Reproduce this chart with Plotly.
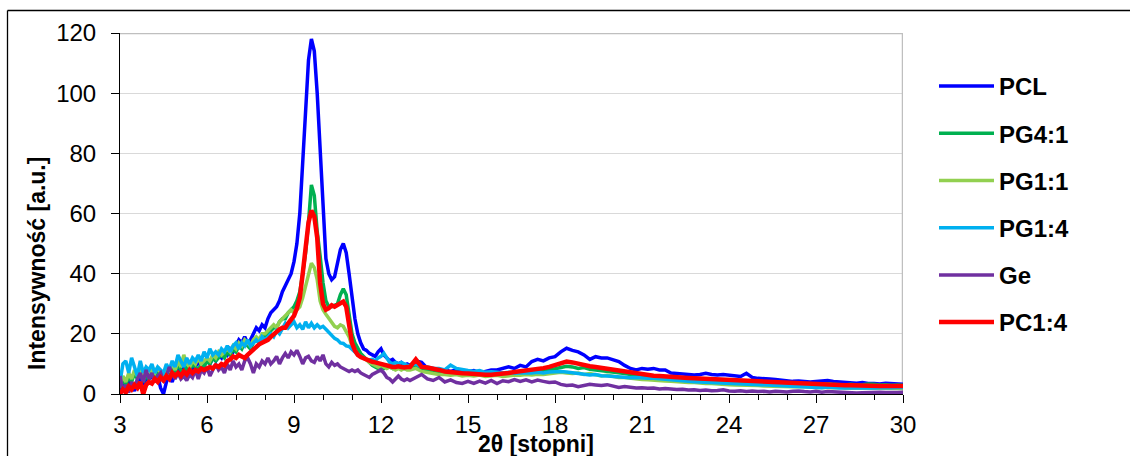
import numpy as np
import plotly.graph_objects as go

# 2-theta sampling grid: 0.1 deg steps up to 12.9, then 0.2 deg steps to 30
two_theta = np.round(np.concatenate([np.arange(30, 130) / 10, np.arange(65, 151) * 0.2]), 1)

pcl = [
    1, 4, 2, 5, 3, 1, 4, 6, 3, 5,
    5, 6, 4, 6, 2, 0, 4, 6, 4, 7,
    8, 6, 9, 7, 10, 8, 9, 11, 9, 10,
    11, 10, 12, 11, 13, 12, 14, 13, 15, 14,
    16, 18, 17, 19, 17, 18, 20, 22, 21, 23,
    22, 25, 27, 28, 29, 31, 34, 36, 38, 40,
    44, 50, 60, 78, 98, 111, 118, 114, 100, 80,
    60, 45, 40, 38, 39, 43, 48, 50, 47, 40,
    32, 25, 20, 17, 15, 14.5, 13.5, 13, 12.5, 14,
    15, 13, 12, 11, 11.5, 10.5, 10, 10.5, 9.5, 10,
    # 13.0 - 30.0
    9.5, 11, 10.5, 8.5, 8.5, 8, 8, 7.5, 8, 7.5,
    7.4, 7.8, 7, 7.5, 8, 8, 8.5, 9, 8.5, 9.5,
    9, 10.8, 11.5, 11, 12, 12.4, 14, 15.2, 14.5, 14,
    13, 11.5, 12.4, 12, 12, 11.5, 10.8, 9.5, 8.5, 8,
    8.5, 8.2, 8.5, 8, 8, 7, 6.8, 6.5, 6.3, 6.3,
    6.5, 6.9, 6.5, 6.3, 6.5, 6.3, 6, 5.8, 6.9, 5.5,
    5.2, 5.2, 5, 4.8, 4.6, 4.5, 4.2, 4.3, 4.1, 4,
    4.2, 4.3, 4.5, 4.2, 4, 3.8, 3.7, 3.6, 3.8, 3.5,
    3.5, 3.3, 3.6, 3.4, 3.3, 3.2,
]

pg41 = [
    2, 5, 3, 6, 4, 7, 5, 8, 4, 6,
    5, 7, 6, 8, 6, 5, 8, 7, 9, 7,
    10, 8, 7, 9, 8, 10, 9, 8, 10, 9,
    11, 10, 12, 11, 12, 13, 12, 14, 13, 15,
    14, 16, 15, 17, 16, 15, 17, 18, 17, 19,
    19, 20, 21, 22, 22, 24, 25, 25, 27, 28,
    29, 31, 34, 40, 47, 57, 69.5, 66, 54, 46,
    37, 31, 29, 29, 29.5, 30, 33, 35, 33, 26,
    20, 17, 15, 13.5, 12.5, 11.5, 10.5, 9.5, 9, 8.5,
    9, 8.5, 9.5, 9, 8.5, 9, 9.5, 9, 8.5, 9,
    # 13.0 - 30.0
    8.5, 9, 8.5, 8, 7.5, 7.5, 7, 7, 7.2, 6.8,
    6.8, 7, 6.5, 6.8, 6.5, 6.8, 7, 6.8, 7.2, 7,
    7.5, 7.2, 7.8, 7.5, 8, 8.5, 8.8, 9.2, 9, 8.5,
    8.8, 8.2, 8, 7.8, 7.5, 7.2, 7, 6.8, 6.5, 6.2,
    6, 5.8, 5.8, 5.5, 5.5, 5.2, 5.2, 5, 5, 4.8,
    4.8, 4.6, 4.6, 4.5, 4.4, 4.3, 4.2, 4.2, 4, 4,
    3.9, 3.8, 3.8, 3.6, 3.6, 3.5, 3.4, 3.6, 3.3, 3.4,
    3.2, 3.3, 3.4, 3.2, 3.1, 3, 3.2, 3, 3.1, 3.3,
    3.2, 3, 3.1, 2.9, 3, 2.9,
]

pg11 = [
    3, 6, 4, 7, 5, 8, 6, 9, 5, 7,
    6, 8, 7, 9, 7, 6, 9, 8, 10, 8,
    11, 9, 13, 10, 9, 11, 10, 12, 10, 11,
    12, 11, 13, 12, 14, 13, 14, 15, 14, 16,
    15, 17, 16, 18, 17, 16, 18, 19, 18, 20,
    20, 21, 22, 23, 22, 24, 25, 26, 27, 28,
    27, 28, 29, 32, 36, 40, 43.5, 42, 38, 31,
    28, 26.5, 25, 24, 22.5, 22, 23, 22.5, 21, 19,
    16, 14.5, 13, 12.5, 12, 11.3, 10.5, 10, 9.5, 9,
    9.5, 9, 8.5, 9, 8.5, 8, 8.5, 8, 8.5, 8,
    # 13.0 - 30.0
    8, 8.5, 7.5, 7, 6.8, 6.5, 6.5, 6.2, 6.5, 6,
    6.2, 6, 6.3, 5.8, 6, 6.2, 5.8, 6, 6.3, 6.2,
    6.5, 6.3, 6.6, 6.5, 6.8, 7, 7.2, 7, 6.8, 7,
    6.5, 6.8, 6.3, 6, 6.2, 5.8, 5.5, 5.5, 5.2, 5,
    4.8, 4.7, 4.5, 4.5, 4.3, 4.2, 4, 4, 3.8, 3.8,
    3.6, 3.5, 3.5, 3.3, 3.3, 3.1, 3, 3, 2.9, 2.8,
    2.8, 2.7, 2.6, 2.6, 2.5, 2.5, 2.4, 2.5, 2.3, 2.3,
    2.2, 2.3, 2.2, 2.1, 2.2, 2, 2.1, 2, 2, 1.9,
    2, 1.9, 1.9, 1.8, 1.9, 1.8,
]

pg14 = [
    4, 10, 11, 7, 12, 9, 6, 11, 7, 9,
    8, 10, 7, 9, 8, 7, 10, 8, 11, 9,
    13, 11, 9, 12, 10, 12, 11, 13, 11, 14,
    12, 15, 13, 14, 13, 15, 14, 16, 14, 16,
    17, 15, 17, 16, 18, 16, 17, 18, 17, 19,
    18, 19, 20, 19, 21, 20, 22, 23.5, 22, 23,
    24, 22, 23, 21.5, 24, 22, 23.5, 22, 23, 22,
    22.5, 21.5, 20.5, 19.5, 18.5, 18, 17, 16.8, 16, 15.8,
    15, 14, 13, 12.5, 11.8, 11.5, 11.3, 11.5, 11, 12,
    12.5, 13.5, 12, 10.5, 10, 10.5, 10, 10.5, 10, 9.5,
    # 13.0 - 30.0
    9.5, 10, 9, 9, 8.5, 8.5, 8, 9.6, 8.5, 8,
    7.8, 7.5, 7.8, 7.2, 7.4, 7.2, 7, 7.2, 6.9, 7,
    6.9, 7, 7.2, 7, 7.3, 7.4, 7.5, 7.3, 7, 6.8,
    6.5, 6.3, 6.5, 6.1, 6, 5.8, 5.8, 5.6, 5.4, 5.5,
    5.3, 5.2, 5.2, 5, 4.8, 4.7, 4.5, 4.3, 4.2, 4.1,
    4, 3.9, 3.8, 3.7, 3.6, 3.5, 3.5, 3.4, 3.3, 3.2,
    3.1, 3, 3, 2.9, 2.8, 2.7, 2.5, 2.4, 2.3, 2.2,
    2.2, 2.1, 2.3, 2.1, 2, 2, 2, 1.9, 1.9, 1.8,
    2, 2.1, 2, 2.1, 2.2, 2.2,
]

ge = [
    6, 1, 3, 0.5, 4, 2, 5, 7, 4, 8,
    5, 7, 4, 6, 7, 4, 6, 9, 7, 5,
    7, 5, 6, 4.5, 6.5, 5.5, 8, 5, 8, 7,
    9, 6, 8, 10, 8, 9, 7, 10, 8, 11,
    9, 10, 8, 11, 12, 10, 7, 10, 9, 11,
    10, 12, 10, 11, 12.5, 10, 12, 13.5, 12, 14,
    13, 14.5, 12.5, 10, 12, 12.5, 11, 10.5, 12.5, 11,
    13, 10, 9, 10.5, 9.5, 10, 9, 8.5, 8, 7.5,
    8, 7.5, 8, 7, 6.5, 6, 5.5, 6.5, 7, 7.5,
    8, 7, 5.5, 5, 4, 5, 6, 5, 4.5, 5,
    # 13.0 - 30.0
    4.5, 5.5, 6.5, 5, 4.5, 5.5, 4, 4.7, 3.8, 3.5,
    4.2, 3.5, 4.3, 3.6, 4.5, 3.5, 4.4, 4.1, 4.8, 4.2,
    4.7, 4, 4.6, 4.2, 3.8, 4, 3.2, 2.8, 3, 2.4,
    2.8, 3.2, 3, 2.8, 3.1, 2.6, 2.2, 2.5, 2.2, 2,
    2.1, 1.9, 2, 1.7, 1.8, 1.6, 1.5, 1.6, 1.3, 1.4,
    1.2, 1.3, 1.1, 1.2, 1.4, 1, 0.9, 1.1, 0.8, 1,
    0.8, 0.9, 0.7, 0.9, 0.8, 0.7, 0.9, 1, 0.8, 0.7,
    0.9, 0.6, 0.8, 0.7, 0.5, 0.6, 0.4, 0.3, 0.4, 0.5,
    0.4, 0.6, 0.5, 0.4, 0.5, 0.6,
]

pc14 = [
    0, 1.5, 0.5, 2.5, 1.5, 3, 2, 4, 0, 3,
    4, 3.5, 5, 4, 5.5, 4.5, 6, 5, 7, 6,
    7, 6, 7.5, 6.5, 8, 7, 8, 7.5, 8.5, 8,
    8.5, 9, 8.5, 9.5, 9, 10, 9.5, 11, 11.5, 12.5,
    12, 13, 12.5, 12, 13, 14, 15, 15.5, 16.5, 17,
    17.5, 18, 19, 20, 21, 21.5, 22, 22, 23.5, 25,
    26, 28.5, 32, 40, 49, 57, 61, 59, 52, 37,
    30, 28, 28.5, 29.5, 29, 29.5, 30, 30.7, 29, 23,
    17, 14.5, 13, 12.3, 11.8, 11.3, 11, 10.7, 10.5, 10.2,
    10, 9.8, 9.5, 9.2, 9, 9, 9.2, 9, 8.8, 9,
    # 13.0 - 30.0
    9, 11.5, 9, 8.8, 8.5, 8, 7.5, 7.2, 7, 6.9,
    6.8, 6.6, 6.5, 6.4, 6.4, 6.5, 6.8, 7, 7.3, 7.5,
    7.8, 8, 8.3, 8.6, 9, 9.6, 10.2, 10.8, 10.5, 10,
    9.5, 9.2, 9, 8.7, 8.4, 8.1, 7.8, 7.4, 7, 6.8,
    6.5, 6.3, 6.1, 6, 5.8, 5.7, 5.5, 5.4, 5.3, 5.2,
    5.1, 5, 4.9, 4.8, 4.7, 4.6, 4.5, 4.4, 4.3, 4.2,
    4.1, 4, 3.9, 3.8, 3.7, 3.6, 3.5, 3.5, 3.4, 3.3,
    3.2, 3.2, 3.1, 3, 3, 2.9, 2.9, 2.8, 2.8, 2.8,
    2.7, 2.7, 2.7, 2.7, 2.7, 2.7,
]

series_names = ["PCL", "PG4:1", "PG1:1", "PG1:4", "Ge", "PC1:4"]
series_values = [pcl, pg41, pg11, pg14, ge, pc14]
series_colors = ["#0000FF", "#00B050", "#92D050", "#00B0F0", "#7030A0", "#FF0000"]
series_widths = [3.5, 3.5, 3.5, 3.5, 3.5, 4.5]

x_ticks = [3, 6, 9, 12, 15, 18, 21, 24, 27, 30]
y_ticks = [0, 20, 40, 60, 80, 100, 120]

FONT = "Liberation Sans, Arial, sans-serif"

# plot-area pixel frame used to place free text / frame lines
W, H = 1130, 456
L, R, T, B = 120, 903, 33, 394


def px_x(p):
    return (p - L) / (R - L)


def px_y(p):
    return (B - p) / (B - T)


fig = go.Figure()
for name, vals, col, w in zip(series_names, series_values, series_colors, series_widths):
    fig.add_trace(go.Scatter(
        x=two_theta, y=vals, mode="lines", name=name, legendgroup=name,
        line=dict(color=col, width=w),
    ))

fig.update_layout(
    width=W, height=H,
    margin=dict(l=L, r=W - R, t=T, b=H - B, pad=0),
    paper_bgcolor="white", plot_bgcolor="white",
    font=dict(family=FONT, color="black", size=24),
    showlegend=True,
    legend=dict(
        x=px_x(934), y=px_y(64), xanchor="left", yanchor="top",
        font=dict(family=FONT, size=24, color="black", weight="bold"),
        tracegroupgap=13, itemwidth=55, bgcolor="rgba(0,0,0,0)",
    ),
    xaxis=dict(
        range=[3, 30], tickvals=x_ticks, ticks="outside", ticklen=8, tickwidth=1,
        tickcolor="black", showline=True, linecolor="black", linewidth=1,
        showgrid=False, zeroline=False, ticklabelstandoff=1,
        tickfont=dict(family=FONT, size=24, color="black"),
        minor=dict(dtick=1, ticks="outside", ticklen=5, tickcolor="black", showgrid=False),
    ),
    yaxis=dict(
        range=[0, 120], tickvals=y_ticks, ticks="outside", ticklen=8, tickwidth=1,
        tickcolor="black", showline=True, linecolor="black", linewidth=1,
        showgrid=True, gridcolor="#D9D9D9", gridwidth=1.3, zeroline=False,
        ticklabelstandoff=10,
        tickfont=dict(family=FONT, size=24, color="black"),
    ),
)

# grey top / right border of the plot area
fig.add_shape(type="line", xref="x", yref="y", x0=3, x1=30, y0=120, y1=120,
              line=dict(color="#BFBFBF", width=2.5), layer="between")
fig.add_shape(type="line", xref="x", yref="y", x0=30, x1=30, y0=0, y1=120,
              line=dict(color="#BFBFBF", width=2.5), layer="between")

# outer chart frame (left and top edges)
fig.add_shape(type="line", xref="paper", yref="paper",
              x0=px_x(7.5), x1=px_x(1140), y0=px_y(10.5), y1=px_y(10.5),
              line=dict(color="black", width=1.3))
fig.add_shape(type="line", xref="paper", yref="paper",
              x0=px_x(7.5), x1=px_x(7.5), y0=px_y(10.5), y1=px_y(470),
              line=dict(color="black", width=1.3))

# axis titles
fig.add_annotation(text="<b>Intensywność [a.u.]</b>", xref="paper", yref="paper",
                   x=px_x(37), y=px_y(264), xanchor="center", yanchor="middle",
                   textangle=-90, showarrow=False,
                   font=dict(family=FONT, size=23, color="black"))
fig.add_annotation(text="<b>2θ [stopni]</b>", xref="paper", yref="paper",
                   x=px_x(536), y=px_y(444), xanchor="center", yanchor="middle",
                   showarrow=False,
                   font=dict(family=FONT, size=23, color="black"))

fig.write_html("out.html")
